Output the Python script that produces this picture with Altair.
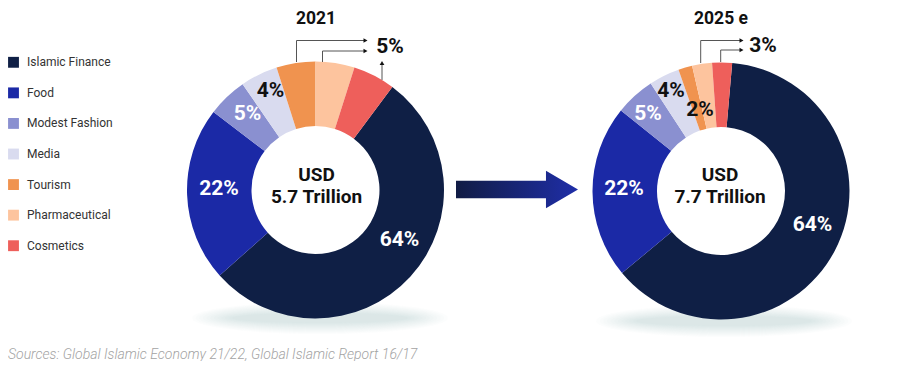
import math
import altair as alt
import pandas as pd

OFF = 8  # page margin of the html page; layout below is written in page pixels
W, H = 884, 353
FONT = "Roboto"

# ---------------- data ----------------
categories = ["Islamic Finance", "Food", "Modest Fashion", "Media",
              "Tourism", "Pharmaceutical", "Cosmetics"]
colors = ["#0f1f45", "#1b29a6", "#8a90d0", "#d9dbef", "#f0934f", "#fdc49e", "#ee5f5b"]

# visual share of the ring taken by each slice
share_2021 = [53.2, 22.0, 5.0, 4.7, 4.9, 4.9, 5.3]
share_2025 = [62.6, 21.8, 5.0, 3.85, 1.75, 2.5, 2.5]

# clockwise drawing order, starting at the top of each ring
ring_order = ["Pharmaceutical", "Cosmetics", "Islamic Finance", "Food",
              "Modest Fashion", "Media", "Tourism"]

years = ["2021", "2025 e"]
totals = ["5.7 Trillion", "7.7 Trillion"]
label_2021 = ["64%", "22%", "5%", "4%"]
label_2025 = ["64%", "22%", "5%", "4%", "2%"]
callout_2021 = "5%"
callout_2025 = "3%"
source_note = "Sources: Global Islamic Economy 21/22, Global Islamic Report 16/17"

# ---------------- layout (page pixels) ----------------
C1 = (315.5, 190.0)
C2 = (721.0, 191.0)
R_OUT, R_IN = 128.5, 64
START_1 = 0.0      # degrees, clockwise from 12 o'clock
START_2 = -13.0


def px(v):
    return v - OFF


def ring_df(shares):
    return pd.DataFrame({
        "cat": categories,
        "share": shares,
        "pos": [ring_order.index(c) for c in categories],
    })


def ring(shares, c, start_deg):
    s = math.radians(start_deg)
    return alt.Chart(ring_df(shares)).mark_arc(
        outerRadius=R_OUT, innerRadius=R_IN, strokeWidth=0
    ).encode(
        x=alt.value(px(c[0])), y=alt.value(px(c[1])),
        theta=alt.Theta("share:Q", stack=True,
                        scale=alt.Scale(range=[s, s + 2 * math.pi])),
        color=alt.Color("cat:N", scale=alt.Scale(domain=categories, range=colors),
                        legend=None),
        order=alt.Order("pos:Q"),
    )


# soft shadows under the rings: stacked faint ellipses
rows = []
N_SH = 12
for cx, cy in [(320, 318), (724, 321)]:
    for i in range(N_SH):
        t = i / (N_SH - 1)
        hw = 128 - 40 * t
        hh = 16 - 11 * t
        k = hh / hw
        rows.append({
            "x": px(cx), "y": px(cy),
            "shape": f"M -1 0 A 1 {k:.4f} 0 1 1 1 0 A 1 {k:.4f} 0 1 1 -1 0 Z",
            "size": (2 * hw) ** 2,
        })
shadow_df = pd.DataFrame(rows)
shadows = alt.Chart(shadow_df).mark_point(
    filled=True, color="#aab0c2", opacity=0.03, strokeWidth=0
).encode(x=alt.X("x:Q", scale=None), y=alt.Y("y:Q", scale=None),
         shape=alt.Shape("shape:N", scale=None),
         size=alt.Size("size:Q", scale=None))

# titles
title_df = pd.DataFrame({"t": years, "x": [px(316), px(721)], "y": [px(18.5), px(18.5)]})
titles = alt.Chart(title_df).mark_text(
    font=FONT, fontSize=17.5, fontWeight="bold", color="#111111", baseline="middle"
).encode(x=alt.X("x:Q", scale=None), y=alt.Y("y:Q", scale=None), text="t:N")

# centre texts
centre_df = pd.DataFrame({
    "t": ["USD", totals[0], "USD", totals[1]],
    "x": [px(316.5), px(316.5), px(720), px(720)],
    "y": [px(175), px(197), px(175), px(197)],
})
centres = alt.Chart(centre_df).mark_text(
    font=FONT, fontSize=19, fontWeight="bold", color="#111111", baseline="middle"
).encode(x=alt.X("x:Q", scale=None), y=alt.Y("y:Q", scale=None), text="t:N")

# percentage labels
pct_df = pd.DataFrame({
    "t": label_2021 + label_2025 + [callout_2021, callout_2025],
    "x": [px(v) for v in [399.5, 219, 247.5, 270.5, 812.5, 624, 648, 671, 700, 390, 763]],
    "y": [px(v) for v in [239.5, 188.5, 113.5, 90.5, 225, 188.5, 113.5, 91, 110, 47, 46]],
    "c": ["#ffffff", "#ffffff", "#ffffff", "#111111",
          "#ffffff", "#ffffff", "#ffffff", "#111111", "#111111",
          "#111111", "#111111"],
})
pcts = alt.Chart(pct_df).mark_text(
    font=FONT, fontSize=21, fontWeight="bold", baseline="middle"
).encode(x=alt.X("x:Q", scale=None), y=alt.Y("y:Q", scale=None), text="t:N",
         color=alt.Color("c:N", scale=None))

# callout connector lines
seg = [
    # 2021 tourism
    (296.5, 62, 296.5, 40.5), (296.5, 40.5, 364, 40.5),
    # 2021 pharmaceutical
    (322.5, 62, 322.5, 51), (322.5, 51, 364, 51),
    # 2021 cosmetics
    (382, 80, 382, 64),
    # 2025 pharmaceutical
    (700.7, 63, 700.7, 40.5), (700.7, 40.5, 740, 40.5),
    # 2025 cosmetics
    (720.7, 62, 720.7, 50), (720.7, 50, 740, 50),
]
seg_df = pd.DataFrame(seg, columns=["x", "y", "x2", "y2"]).apply(lambda s: s - OFF)
rules = alt.Chart(seg_df).mark_rule(color="#555555", strokeWidth=1).encode(
    x=alt.X("x:Q", scale=None), y=alt.Y("y:Q", scale=None),
    x2="x2:Q", y2="y2:Q")

heads_df = pd.DataFrame({
    "x": [px(v) for v in [365.5, 365.5, 382, 741.5, 741.5]],
    "y": [px(v) for v in [40.5, 51, 63, 40.5, 50]],
    "s": ["triangle-right", "triangle-right", "triangle-up", "triangle-right", "triangle-right"],
})
heads = alt.Chart(heads_df).mark_point(filled=True, color="#111111", size=22, opacity=1).encode(
    x=alt.X("x:Q", scale=None), y=alt.Y("y:Q", scale=None),
    shape=alt.Shape("s:N", scale=None))

# big arrow between the rings
arrow_path = ("M -1 -0.144 L 0.475 -0.144 L 0.475 -0.308 L 1 0 "
              "L 0.475 0.308 L 0.475 0.144 L -1 0.144 Z")
arrow_grad = alt.LinearGradient(
    gradient="linear", x1=0, y1=0, x2=1, y2=0,
    stops=[alt.GradientStop(color="#111c44", offset=0),
           alt.GradientStop(color="#1f2ea8", offset=1)])
arrow = alt.Chart(pd.DataFrame({"x": [px(517)], "y": [px(189.5)]})).mark_point(
    shape=arrow_path, filled=True, fill=arrow_grad, size=122 ** 2, opacity=1, strokeWidth=0
).encode(x=alt.X("x:Q", scale=None), y=alt.Y("y:Q", scale=None))

# legend
leg_df = pd.DataFrame({
    "cat": categories,
    "col": colors,
    "y": [px(62.3 + 30.57 * i) for i in range(len(categories))],
})
leg_sq = alt.Chart(leg_df).mark_square(size=118, opacity=1).encode(
    x=alt.value(5.5), y=alt.Y("y:Q", scale=None),
    color=alt.Color("col:N", scale=None))
leg_tx = alt.Chart(leg_df).mark_text(
    font=FONT, fontSize=12, color="#333333", align="left", baseline="middle"
).encode(x=alt.value(19), y=alt.Y("y:Q", scale=None), text="cat:N")

# source note
note = alt.Chart(pd.DataFrame({"t": [source_note]})).mark_text(
    font=FONT, fontSize=14, fontStyle="italic", fontWeight=300, color="#a3a3a3",
    align="left", baseline="alphabetic"
).encode(x=alt.value(0), y=alt.value(H - 2.5), text="t:N")

chart = alt.layer(
    shadows,
    ring(share_2021, C1, START_1),
    ring(share_2025, C2, START_2),
    arrow, rules, heads, titles, centres, pcts, leg_sq, leg_tx, note,
).resolve_scale(theta="independent", color="independent").properties(
    width=W, height=H, padding=0, autosize=alt.AutoSizeParams(type="none"),
    background="#ffffff",
).configure_view(stroke=None)

chart.save("out.html", embed_options={"renderer": "svg", "actions": False})
